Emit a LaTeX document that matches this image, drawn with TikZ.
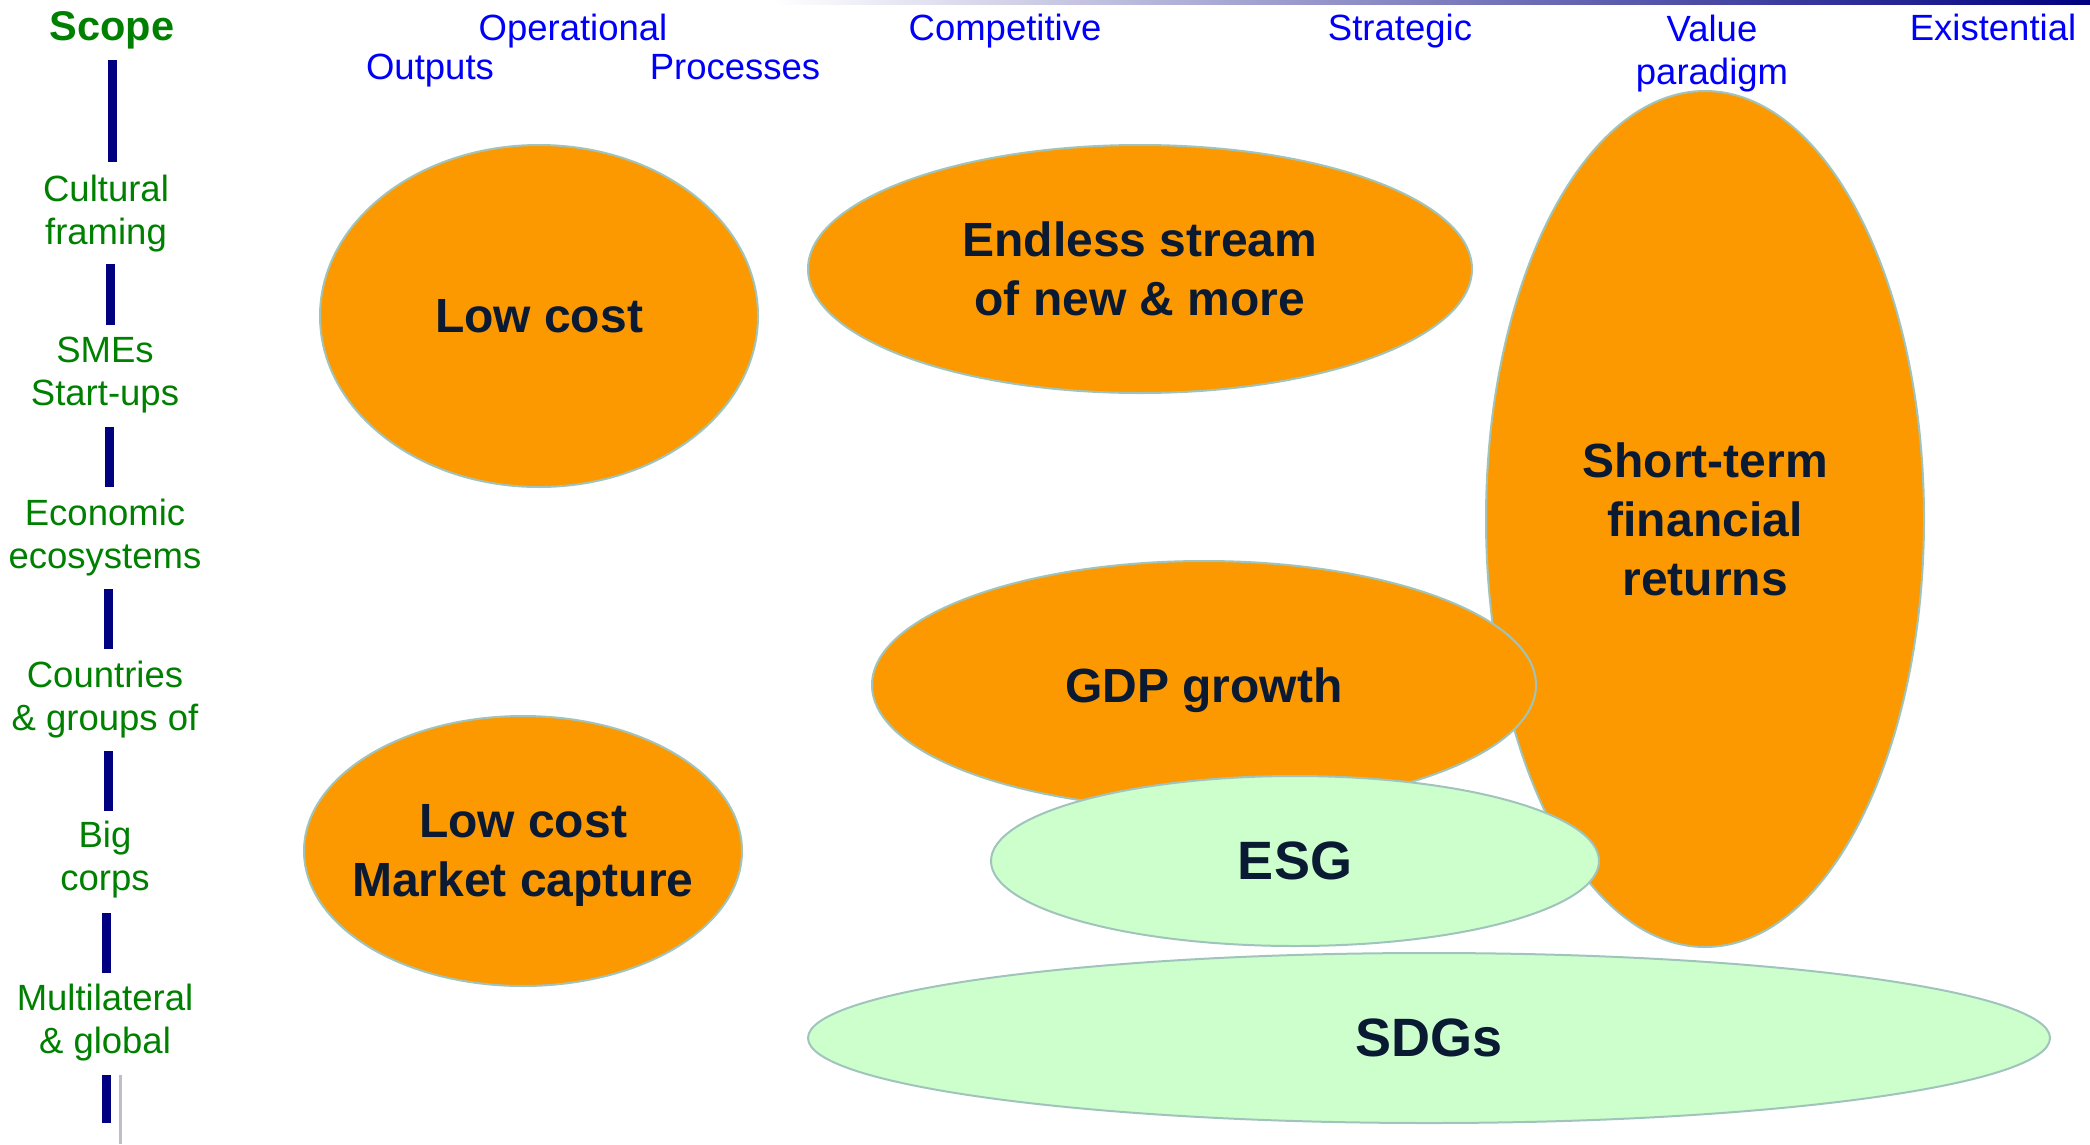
\documentclass[tikz,border=0pt]{standalone}
\usepackage{fontspec}
\setmainfont{Liberation Sans}
\usetikzlibrary{shapes.geometric}
\definecolor{navybar}{RGB}{0,0,128}
\definecolor{scopegreen}{RGB}{0,128,0}
\definecolor{headblue}{RGB}{0,0,250}
\definecolor{orangefill}{RGB}{252,153,0}
\definecolor{greenfill}{RGB}{204,255,204}
\definecolor{edgecol}{RGB}{160,196,188}
\definecolor{textnavy}{RGB}{10,26,51}
\definecolor{thingray}{RGB}{190,190,200}
\begin{document}
\begin{tikzpicture}[x=1pt,y=-1pt,
  head/.style={text=headblue,font=\fontsize{36.5}{41}\selectfont,inner sep=0pt},
  side/.style={text=scopegreen,font=\fontsize{36.5}{43}\selectfont,align=center,inner sep=0pt},
  scopebar/.style={draw=navybar,line width=9pt},
  blobtext/.style={text=textnavy,align=center,inner sep=0pt,font=\bfseries\fontsize{48}{59}\selectfont},
  blob/.style={ellipse,draw=edgecol,line width=2pt,inner sep=0pt,text=textnavy,align=center,
    font=\bfseries\fontsize{48}{59}\selectfont},
  orangeblob/.style={blob,fill=orangefill},
  greenblob/.style={blob,fill=greenfill,font=\bfseries\fontsize{54}{60}\selectfont}]
\useasboundingbox (0,0) rectangle (2090,1144);
% top gradient rule
\shade[left color=white,right color=navybar] (773,0) rectangle (2090,4);

% column headers
\node[text=scopegreen,font=\bfseries\fontsize{41.5}{46}\selectfont,inner sep=0pt,anchor=base] (scope) at (112,40) {Scope};
\node[head,anchor=base] (operational) at (573,40) {Operational};
\node[head,anchor=base] (outputs) at (430,79) {Outputs};
\node[head,anchor=base] (processes) at (735,79) {Processes};
\node[head,anchor=base] (competitive) at (1005,40) {Competitive};
\node[head,anchor=base] (strategic) at (1400,40) {Strategic};
\node[head,align=center,font=\fontsize{36.5}{43}\selectfont] (valueparadigm) at (1712,54) {Value\\paradigm};
\node[head,anchor=base] (existential) at (1993,40) {Existential};

% scope column
\node[side] (cultural) at (106,214) {Cultural\\framing};
\node[side] (smes) at (105,375) {SMEs\\Start-ups};
\node[side] (economic) at (105,538) {Economic\\ecosystems};
\node[side] (countries) at (105,700) {Countries\\\& groups of};
\node[side] (bigcorps) at (105,860) {Big\\corps};
\node[side] (multilateral) at (105,1023) {Multilateral\\\& global};

\draw[scopebar] (112,60) -- (112,162);
\draw[scopebar] (110.5,264) -- (110.5,325);
\draw[scopebar] (109.5,427) -- (109.5,487);
\draw[scopebar] (108.5,589) -- (108.5,649);
\draw[scopebar] (108,751) -- (108,811);
\draw[scopebar] (106.5,913) -- (106.5,973);
\draw[scopebar] (106,1075) -- (106,1123);
\draw[draw=thingray,line width=3pt] (120,1075) -- (120,1144);

% ellipses
\node[orangeblob,minimum width=438pt,minimum height=342pt] (lowcost) at (539,316) {Low cost};
\node[orangeblob,minimum width=664pt,minimum height=248pt] (endless) at (1140,269) {Endless stream\\of new \& more};
\node[orangeblob,minimum width=438pt,minimum height=856pt] (shortterm) at (1705,519) {Short-term\\financial\\returns};
\node[orangeblob,minimum width=664pt,minimum height=248pt,text depth=0pt] (gdp) at (1204,685) {GDP growth};
\node[orangeblob,minimum width=438pt,minimum height=270pt] (marketcapture) at (523,851) {};
\node[blobtext] (marketcapturetext) at (523,855) {Low cost\\Market capture};
\node[greenblob,minimum width=608pt,minimum height=170pt,text depth=0pt] (esg) at (1295,861) {ESG};
\node[greenblob,minimum width=1242pt,minimum height=170pt,text depth=0pt] (sdgs) at (1429,1038) {SDGs};
\end{tikzpicture}
\end{document}
